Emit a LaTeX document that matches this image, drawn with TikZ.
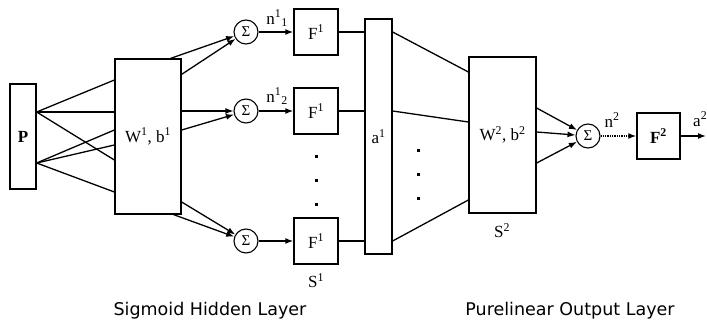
\documentclass[tikz,border=0pt]{standalone}
\usepackage{fontspec}
\setmainfont{Liberation Serif}
\newfontfamily\layerfont{DejaVu Sans}
\usepackage{tikz}
\usetikzlibrary{arrows.meta}
\tikzset{blk/.style={draw,line width=1.3pt,fill=white,inner sep=0pt,font=\fontsize{17}{17}\selectfont},
  sm/.style={circle,draw,line width=1.1pt,minimum size=24pt,inner sep=0pt,font=\fontsize{15}{15}\selectfont},
  ln/.style={line width=1.3pt},
  arr/.style={ln,-{Latex[length=8pt,width=6pt]}},
  lab/.style={font=\fontsize{17}{17}\selectfont,inner sep=0pt},
  dotbox/.style={fill,minimum size=3pt,inner sep=0pt},
  layertxt/.style={font=\layerfont\fontsize{17.5}{18}\selectfont,inner sep=0pt}}
\begin{document}
\begin{tikzpicture}[x=1pt,y=-1pt]
\useasboundingbox (0,0) rectangle (707,324);
\node[blk,minimum width=26pt,minimum height=105pt,font=\fontsize{17}{17}\selectfont\bfseries] (p) at (23,136.5) {P};
\node[blk,minimum width=66pt,minimum height=155pt] (w1) at (148,136.5) {W\textsuperscript{1}, b\textsuperscript{1}};
\coordinate (pa) at ([yshift=24.5pt]p.east); \coordinate (pb) at ([yshift=-26.5pt]p.east);
\foreach \y in {80,112,160} \draw[ln] (pa) -- (w1.west |- 0,\y);
\foreach \y in {130,145,192} \draw[ln] (pb) -- (w1.west |- 0,\y);
\foreach \n/\y in {1/32,2/111,3/241}{
  \node[sm] (s\n) at (246,\y) {Σ};
  \node[blk,minimum width=44pt,minimum height=46pt] (f\n) at (316,\y) {F\textsuperscript{1}};}
\node[blk,minimum width=27pt,minimum height=235pt] (a1) at (378.5,136.5) {a\textsuperscript{1}};
\draw[arr] ([xshift=-11pt]w1.north east) -- (s1);
\draw[arr] ([yshift=-16pt]w1.north east) -- (s1);
\draw[arr] (w1.east |- s2) -- (s2);
\draw[arr] (w1.east |- 0,130) -- (s2);
\draw[arr] (w1.east |- 0,202) -- (s3);
\draw[arr] ([xshift=-8pt]w1.south east) -- (s3);
\foreach \n in {1,2,3}{\draw[arr] (s\n) -- (f\n); \draw[ln] (f\n) -- (a1.west |- f\n);}
\node[lab,anchor=base] (n11) at (277,24) {n\textsuperscript{1}\textsubscript{1}};
\node[lab,anchor=base] (n12) at (277,102) {n\textsuperscript{1}\textsubscript{2}};
\foreach \y in {156,180,204} \node[dotbox] (da\y) at (316,\y) {};
\node[lab] (s1lab) at (316,281) {S\textsuperscript{1}};
\node[blk,minimum width=67pt,minimum height=156pt] (w2) at (502.5,135) {W\textsuperscript{2}, b\textsuperscript{2}};
\foreach \n/\y in {1/72,2/122,3/200} \draw[ln] (a1.east |- f\n) -- (w2.west |- 0,\y);
\foreach \y in {150,174,198} \node[dotbox] (db\y) at (418,\y) {};
\node[lab] (s2lab) at (502,231) {S\textsuperscript{2}};
\node[sm] (s4) at (588,136) {Σ};
\foreach \y in {108,132,163} \draw[arr] (w2.east |- 0,\y) -- (s4);
\node[blk,minimum width=43pt,minimum height=46pt,font=\fontsize{17}{17}\selectfont\bfseries] (f4) at (658.5,136) {F\textsuperscript{2}};
\draw[arr,densely dotted] (s4) -- (f4);
\coordinate (out) at (706,136);
\draw[arr] (f4) -- (out);
\node[lab,anchor=base] (n2) at (612,127) {n\textsuperscript{2}};
\node[lab,anchor=base west] (a2) at (693,126) {a\textsuperscript{2}};
\node[layertxt] (hid) at (210,311) {Sigmoid Hidden Layer};
\node[layertxt] (outl) at (570,311) {Purelinear Output Layer};
\end{tikzpicture}
\end{document}
